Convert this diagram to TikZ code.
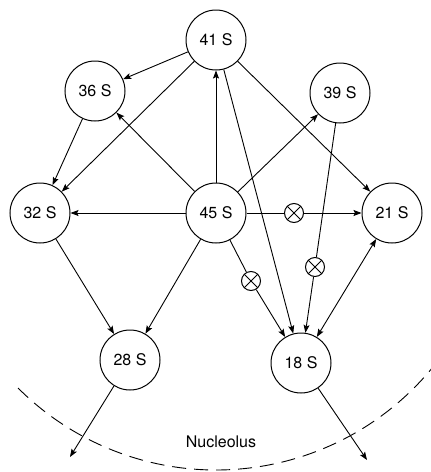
\documentclass[tikz,border=0pt]{standalone}
\usepackage{fontspec}
\setmainfont{TeX Gyre Heros}
\usetikzlibrary{arrows.meta}
\begin{document}
\begin{tikzpicture}[x=1pt,y=-1pt,
  rna/.style={circle,draw,line width=1pt,minimum size=60pt,inner sep=0pt,font=\fontsize{16}{19}\selectfont},
  blk/.style={circle,draw,line width=1pt,minimum size=19pt,inner sep=0pt,
    path picture={\draw[line width=1pt] (path picture bounding box.north west) -- (path picture bounding box.south east)
      (path picture bounding box.north east) -- (path picture bounding box.south west);}},
  conn/.style={line width=0.9pt,-{Stealth[length=8pt,width=6pt,inset=1.5pt]}},
  plain/.style={line width=0.9pt},
  both/.style={line width=0.9pt,{Stealth[length=8pt,width=6pt,inset=1.5pt]}-{Stealth[length=8pt,width=6pt,inset=1.5pt]}}]
\useasboundingbox (0,0) rectangle (431,472);
\begin{scope}
\clip (0,0) rectangle (431,472);
\draw[line width=0.9pt,dash pattern=on 14pt off 8pt] (216,190) ++(135:280) arc[start angle=135,end angle=30,radius=280];
\end{scope}
\node[rna] (n41) at (216,40) {41 S};
\node[rna] (n36) at (95,91) {36 S};
\node[rna] (n39) at (340,93) {39 S};
\node[rna] (n32) at (40,213) {32 S};
\node[rna] (n45) at (216,213) {45 S};
\node[rna] (n21) at (392,213) {21 S};
\node[rna] (n28) at (130,360) {28 S};
\node[rna] (n18) at (301,363) {18 S};
\node[font=\fontsize{16}{19}\selectfont] (nuc) at (221,442) {Nucleolus};
\coordinate (o28) at (70,457);
\coordinate (o18) at (367,460);
\node[blk] (x1) at (294,213) {};
\node[blk] (x2) at (251,281) {};
\node[blk] (x3) at (315,267) {};
\draw[conn] (n41) -- (n36);
\draw[conn] (n41) -- (n32);
\draw[conn] (n45) -- (n41);
\draw[conn] (n41) -- (n18);
\draw[conn] (n41) -- (n21);
\draw[conn] (n36) -- (n32);
\draw[conn] (n45) -- (n36);
\draw[conn] (n45) -- (n39);
\draw[conn] (n45) -- (n32);
\draw[plain] (n45) -- (x1);
\draw[conn] (x1) -- (n21);
\draw[plain] (n45) -- (x2);
\draw[conn] (x2) -- (n18);
\draw[plain] (n39) -- (x3);
\draw[conn] (x3) -- (n18);
\draw[conn] (n45) -- (n28);
\draw[conn] (n32) -- (n28);
\draw[both] (n21) -- (n18);
\draw[conn] (n28) -- (o28);
\draw[conn] (n18) -- (o18);
\end{tikzpicture}
\end{document}
